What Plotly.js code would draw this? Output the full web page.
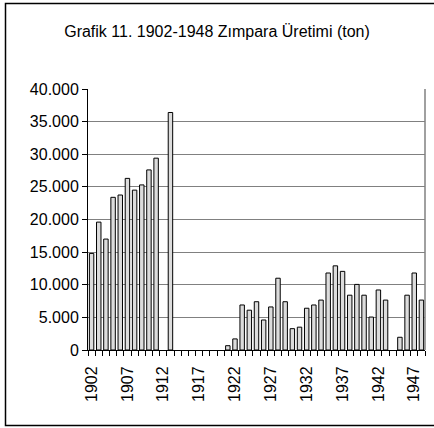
<!DOCTYPE html>
<html>
<head>
<meta charset="utf-8">
<script src="https://cdn.plot.ly/plotly-3.0.1.min.js"></script>
<style>
html,body{margin:0;padding:0;background:#fff;}
#chart{width:434px;height:428px;}
</style>
</head>
<body>
<div id="chart"></div>
<script>
const years = [1902,1903,1904,1905,1906,1907,1908,1909,1910,1911,
               1912,1913,1914,1915,1916,1917,1918,1919,1920,1921,
               1922,1923,1924,1925,1926,1927,1928,1929,1930,1931,
               1932,1933,1934,1935,1936,1937,1938,1939,1940,1941,
               1942,1943,1944,1945,1946,1947,1948];
// null = no production recorded (no bar drawn)
const production = [14800,19600,17000,23400,23750,26300,24500,25300,27600,29400,
                    null,36400,null,null,null,null,null,null,null,660,
                    1700,6900,6100,7400,4600,6600,11000,7400,3270,3500,
                    6400,6900,7650,11800,12900,12050,8400,10050,8400,5050,
                    9200,7650,null,1950,8400,11800,7650];
const labelYears = [1902,1907,1912,1917,1922,1927,1932,1937,1942,1947];
const yTicks = [0,5000,10000,15000,20000,25000,30000,35000,40000];

const L = 88, R = 425, T = 89, B = 350, W = 434, H = 428;
const pw = R - L, ph = B - T;
const px = v => (v - L) / pw;
const py = v => (B - v) / ph;

const trace = {
  type: 'bar',
  x: years,
  y: production,
  marker: {color: '#dcdcdc', line: {color: '#000', width: 1}},
  width: 0.62,
  hoverinfo: 'x+y'
};

const layout = {
  width: W, height: H,
  margin: {l: L, r: W - R, t: T, b: H - B, pad: 0},
  paper_bgcolor: '#fff', plot_bgcolor: '#fff',
  separators: ',.',
  showlegend: false,
  font: {family: 'Liberation Sans, Arial, sans-serif', color: '#000', size: 16},
  title: {
    text: 'Grafik 11. 1902-1948 Zımpara Üretimi (ton)',
    font: {family: 'Liberation Sans, Arial, sans-serif', size: 16, color: '#000'},
    x: 0.5, xref: 'container', xanchor: 'center',
    y: 1 - 31 / H, yref: 'container', yanchor: 'middle'
  },
  xaxis: {
    type: 'linear',
    range: [1901.5, 1948.5],
    tickmode: 'array',
    tickvals: labelYears,
    ticktext: labelYears.map(String),
    tickangle: -90,
    ticks: '',
    ticklen: 0,
    ticklabelstandoff: 9,
    tickfont: {size: 16},
    showgrid: false,
    zeroline: false,
    showline: true, linecolor: '#000', linewidth: 1,
    minor: {tickmode: 'linear', tick0: 1901.5, dtick: 1, ticks: 'outside', ticklen: 5, tickcolor: '#000', tickwidth: 1, showgrid: false},
    fixedrange: true
  },
  yaxis: {
    range: [0, 40000],
    tickmode: 'array',
    tickvals: yTicks,
    tickformat: ',d',
    ticks: 'outside', ticklen: 5, tickcolor: '#000',
    tickfont: {size: 16},
    showgrid: true, gridcolor: '#808080', gridwidth: 1,
    zeroline: false,
    showline: true, linecolor: '#000', linewidth: 1,
    fixedrange: true
  },
  shapes: [
    {type: 'line', xref: 'paper', yref: 'paper', x0: 1, x1: 1, y0: 0, y1: 1,
     line: {color: '#808080', width: 1.5}},
    {type: 'rect', xref: 'paper', yref: 'paper',
     x0: px(5.5), x1: px(440), y0: py(425.5), y1: py(3.5),
     line: {color: '#000', width: 1.5}, fillcolor: 'rgba(0,0,0,0)', layer: 'above'}
  ]
};

Plotly.newPlot('chart', [trace], layout, {displayModeBar: false, staticPlot: true});
</script>
</body>
</html>
